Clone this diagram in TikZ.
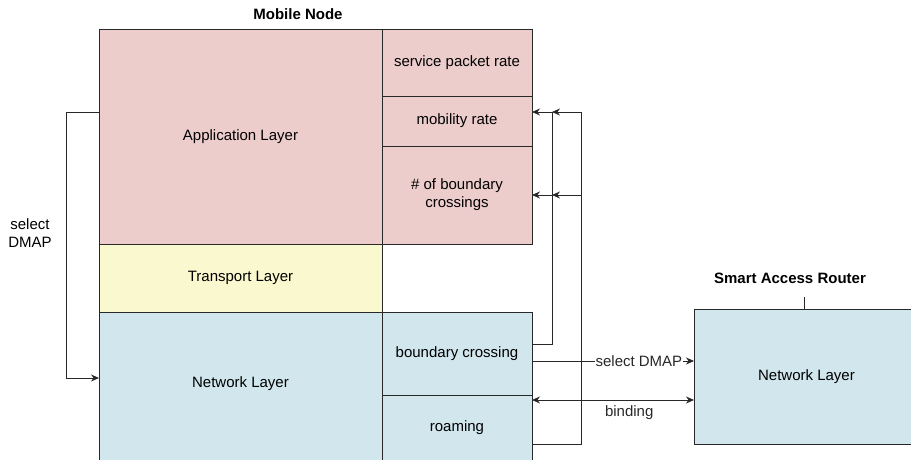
\documentclass[tikz,border=0pt]{standalone}
\usepackage{fontspec}
\setmainfont{Liberation Sans}
\usetikzlibrary{arrows.meta}
\definecolor{appred}{RGB}{237,205,204}
\definecolor{trnyel}{RGB}{250,248,206}
\definecolor{netblu}{RGB}{209,231,237}
\definecolor{edgegr}{RGB}{40,40,40}
\tikzset{
  layer/.style={draw=edgegr, line width=0.9pt, anchor=north west, inner sep=2pt,
    outer sep=0pt, align=center, font=\fontsize{15}{18}\selectfont},
  arr/.style={-{Stealth[length=8pt,width=7pt]}, line width=0.8pt, edgegr},
  lbl/.style={font=\fontsize{15}{18}\selectfont, align=center}
}
\begin{document}
\begin{tikzpicture}[x=1pt, y=-1pt]
\useasboundingbox (0,0) rectangle (911,460);
\clip (0,0) rectangle (911,460);
% mobile node
\node [lbl, font=\fontsize{15}{18}\selectfont\bfseries] (mntitle) at (298,14) {Mobile Node};
\node [layer, fill=appred, minimum width=283pt, minimum height=215pt] (app) at (99,29) {Application Layer};
\node [layer, fill=appred, minimum width=150pt, minimum height=67pt] (spr) at (382,29) {service packet rate};
\node [layer, fill=appred, minimum width=150pt, minimum height=50pt] (mob) at (382,96) {mobility rate};
\node [layer, fill=appred, minimum width=150pt, minimum height=98pt] (nbc) at (382,146) {\# of boundary\\crossings};
\node [layer, fill=trnyel, minimum width=283pt, minimum height=68pt] (trans) at (99,244) {Transport Layer};
\node [layer, fill=netblu, minimum width=283pt, minimum height=160pt] (net) at (99,312) {};
\node [lbl] (netlbl) at (240.5,384) {Network Layer};
\node [layer, fill=netblu, minimum width=150pt, minimum height=83pt] (bc) at (382,312) {boundary crossing};
\node [layer, fill=netblu, minimum width=150pt, minimum height=90pt] (roam) at (382,395) {};
\node [lbl] (roamlbl) at (457,428) {roaming};
% smart access router
\node [lbl, font=\fontsize{15}{18}\selectfont\bfseries] (sartitle) at (790,278) {Smart Access Router};
\node [layer, fill=netblu, minimum width=225pt, minimum height=135pt] (sar) at (694,309) {Network Layer};
\draw [edgegr, line width=0.8pt] (sar.north -| 804,0) -- ++(0,-12);
% connectors
\coordinate (inner) at (552,0);
\coordinate (outer) at (581,0);
\draw [arr] (bc.east |- 0,344) -| (inner |- 0,112) -- (mob.east |- 0,112);
\draw [arr] (bc.east |- 0,344) -| (inner |- 0,195) -- (nbc.east |- 0,195);
\draw [arr] (roam.east |- 0,444) -| (outer |- 0,112) -- (inner |- 0,112);
\draw [arr] (roam.east |- 0,444) -| (outer |- 0,195) -- (inner |- 0,195);
\draw [arr] (bc.east |- 0,361) -- node [lbl, fill=white, inner sep=1pt, pos=0.66] {select DMAP} (sar.west |- 0,361);
\draw [arr, {Stealth[length=8pt,width=7pt]}-{Stealth[length=8pt,width=7pt]}] (roam.east |- 0,400) -- node [lbl, below=2pt, pos=0.6] {binding} (sar.west |- 0,400);
\draw [arr] (app.west |- 0,112) -- (66,112) -- (66,378) -- (net.west |- 0,378);
\node [lbl] (sellbl) at (30,233) {select\\DMAP};
\end{tikzpicture}
\end{document}
